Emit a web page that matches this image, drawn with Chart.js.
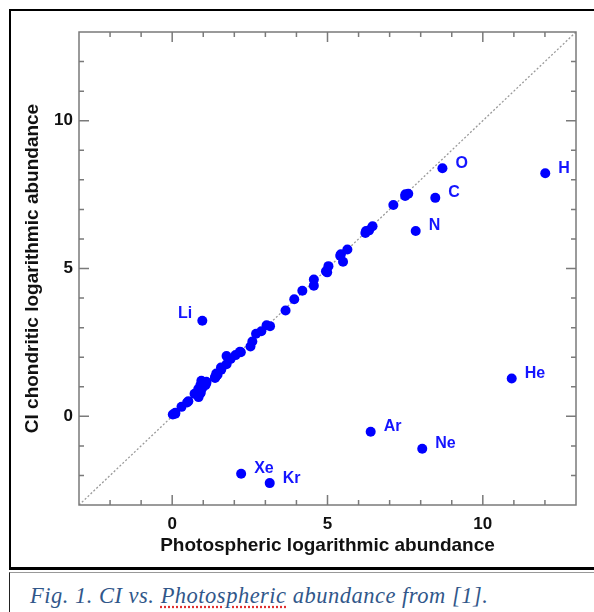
<!DOCTYPE html>
<html>
<head>
<meta charset="utf-8">
<script src="https://cdn.jsdelivr.net/npm/chart.js@4"></script>
<style>
  html, body { margin: 0; padding: 0; background: #fff; }
  body { width: 594px; height: 612px; overflow: hidden; position: relative; }
  #frame {
    position: absolute; left: 9px; top: 9px;
    width: 620px; height: 556px;
    border: 2px solid #000; border-bottom-width: 3px;
  }
  #chartBox { position: absolute; left: 0; top: 0; width: 583px; height: 556px; }
  #caption {
    position: absolute; left: 9px; top: 572px; width: 620px; height: 60px;
    border-top: 1px solid #999; border-left: 1.5px solid #222;
  }
  #caption p {
    margin: 0; position: absolute; left: 20px; top: 10px;
    font-family: "Liberation Serif", serif; font-style: italic; font-size: 22.5px;
    letter-spacing: 0.5px;
    color: #31578a; white-space: nowrap;
  }
  .spell { text-decoration: underline dotted #e03030; text-underline-offset: 3px; }
</style>
</head>
<body>
<div id="frame"><div id="chartBox"><canvas id="abundChart"></canvas></div></div>
<div id="caption"><p>Fig. 1. CI vs. <span class="spell">Photospheric</span> abundance from [1].</p></div>
<script>
// element symbols, photospheric and CI chondritic log abundances
const elements = ['H','He','Li','Be','B','C','N','O','F','Ne','Na','Mg','Al','Si','P','S','Cl','Ar',
  'K','Ca','Sc','Ti','V','Cr','Mn','Fe','Co','Ni','Cu','Zn','Ga','Ge','Kr','Rb','Sr','Y','Zr',
  'Nb','Mo','Ru','Rh','Pd','Ag','In','Sn','Xe','Ba','La','Ce','Pr','Nd','Sm','Eu','Gd','Tb',
  'Dy','Ho','Er','Tm','Yb','Lu','Hf','W','Os','Ir','Au','Tl','Pb','Th'];
const photo = [12.01, 10.93, 0.97, 1.38, 2.70, 8.47, 7.84, 8.70, 4.56, 8.05, 6.24, 7.60, 6.45, 7.51, 5.41, 7.12, 5.50, 6.39,
  5.03, 6.34, 3.15, 4.95, 3.93, 5.64, 5.43, 7.50, 4.99, 6.22, 4.19, 4.56, 3.04, 3.65, 3.14, 2.52, 2.87, 2.21, 2.58,
  1.46, 1.88, 1.75, 0.91, 1.57, 0.94, 0.80, 2.04, 2.22, 2.18, 1.10, 1.58, 0.72, 1.42, 0.96, 0.52, 1.07, 0.30,
  1.10, 0.48, 0.92, 0.10, 0.84, 0.10, 0.85, 0.85, 1.40, 1.38, 0.92, 0.90, 1.75, 0.02];
const ci = [8.22, 1.28, 3.23, 1.30, 2.79, 7.39, 6.27, 8.39, 4.42, -1.10, 6.27, 7.53, 6.43, 7.51, 5.43, 7.15, 5.23, -0.52,
  5.08, 6.29, 3.05, 4.91, 3.96, 5.64, 5.48, 7.45, 4.87, 6.20, 4.25, 4.63, 3.08, 3.58, -2.26, 2.36, 2.88, 2.17, 2.53,
  1.41, 1.94, 1.76, 1.06, 1.65, 1.20, 0.76, 2.07, -1.94, 2.18, 1.17, 1.58, 0.76, 1.45, 0.94, 0.51, 1.05, 0.32,
  1.13, 0.47, 0.92, 0.12, 0.92, 0.09, 0.71, 0.65, 1.35, 1.32, 0.80, 0.77, 2.04, 0.06];
// which elements get a text label
const labelled = ['H','He','Li','C','N','O','Ne','Ar','Kr','Xe'];
const axisMin = -3, axisMax = 13;

const points = elements.map((el, i) => ({ x: photo[i], y: ci[i], el: el }));

const boxTicks = {
  id: 'boxTicks',
  afterDraw(chart) {
    const { ctx, chartArea: a, scales: { x, y } } = chart;
    ctx.save();
    ctx.strokeStyle = '#7a7a7a';
    ctx.lineWidth = 1.5;
    ctx.strokeRect(a.left, a.top, a.right - a.left, a.bottom - a.top);
    ctx.beginPath();
    for (let v = axisMin + 1; v < axisMax; v++) {
      const len = v % 5 === 0 ? 10 : 5;
      const px = x.getPixelForValue(v);
      ctx.moveTo(px, a.bottom); ctx.lineTo(px, a.bottom - len);
      ctx.moveTo(px, a.top); ctx.lineTo(px, a.top + len);
      const py = y.getPixelForValue(v);
      ctx.moveTo(a.left, py); ctx.lineTo(a.left + len, py);
      ctx.moveTo(a.right, py); ctx.lineTo(a.right - len, py);
    }
    ctx.stroke();
    ctx.restore();
  }
};

const elementLabels = {
  id: 'elementLabels',
  afterDatasetsDraw(chart) {
    const ctx = chart.ctx;
    const meta = chart.getDatasetMeta(0);
    ctx.save();
    ctx.font = 'bold 16px "Liberation Sans", Arial, sans-serif';
    ctx.fillStyle = '#1515ff';
    ctx.textBaseline = 'middle';
    meta.data.forEach((pt, i) => {
      const el = points[i].el;
      if (!labelled.includes(el)) return;
      if (el === 'Li') {
        ctx.textAlign = 'right';
        ctx.fillText(el, pt.x - 10, pt.y - 7);
      } else {
        ctx.textAlign = 'left';
        ctx.fillText(el, pt.x + 13, pt.y - 5);
      }
    });
    ctx.restore();
  }
};

const tickFont = { family: '"Liberation Sans", Arial, sans-serif', size: 17, weight: 'bold' };
const titleFont = { family: '"Liberation Sans", Arial, sans-serif', size: 19, weight: 'bold' };

new Chart(document.getElementById('abundChart'), {
  type: 'scatter',
  data: {
    datasets: [{
      label: 'elements',
      data: points,
      backgroundColor: '#0000ff',
      borderWidth: 0,
      pointRadius: 5,
      pointHoverRadius: 5
    }, {
      label: 'one-to-one',
      data: [{ x: axisMin, y: axisMin }, { x: axisMax, y: axisMax }],
      showLine: true,
      borderColor: '#9a9a9a',
      borderWidth: 1.3,
      borderDash: [2, 2],
      pointRadius: 0
    }]
  },
  options: {
    responsive: true,
    maintainAspectRatio: false,
    animation: false,
    layout: { padding: { left: 0, right: 18, top: 21, bottom: 0 } },
    plugins: { legend: { display: false }, tooltip: { enabled: false } },
    scales: {
      x: {
        type: 'linear', min: axisMin, max: axisMax,
        grid: { display: false, drawTicks: false },
        border: { display: false },
        ticks: {
          stepSize: 1, padding: 9, color: '#111', font: tickFont, autoSkip: false, maxRotation: 0,
          callback: v => (v % 5 === 0 ? v : '')
        },
        title: { display: true, text: 'Photospheric logarithmic abundance', color: '#111', font: titleFont, padding: { top: 0, bottom: 10 } },
        afterFit: s => { s.height = 62; }
      },
      y: {
        type: 'linear', min: axisMin, max: axisMax,
        grid: { display: false, drawTicks: false },
        border: { display: false },
        ticks: {
          stepSize: 1, padding: 6, color: '#111', font: tickFont, autoSkip: false,
          callback: v => (v % 5 === 0 ? v : '')
        },
        title: { display: true, text: 'CI chondritic logarithmic abundance', color: '#111', font: titleFont, padding: { top: 10, bottom: 0 } },
        afterFit: s => { s.width = 68; }
      }
    }
  },
  plugins: [boxTicks, elementLabels]
});
</script>
</body>
</html>
